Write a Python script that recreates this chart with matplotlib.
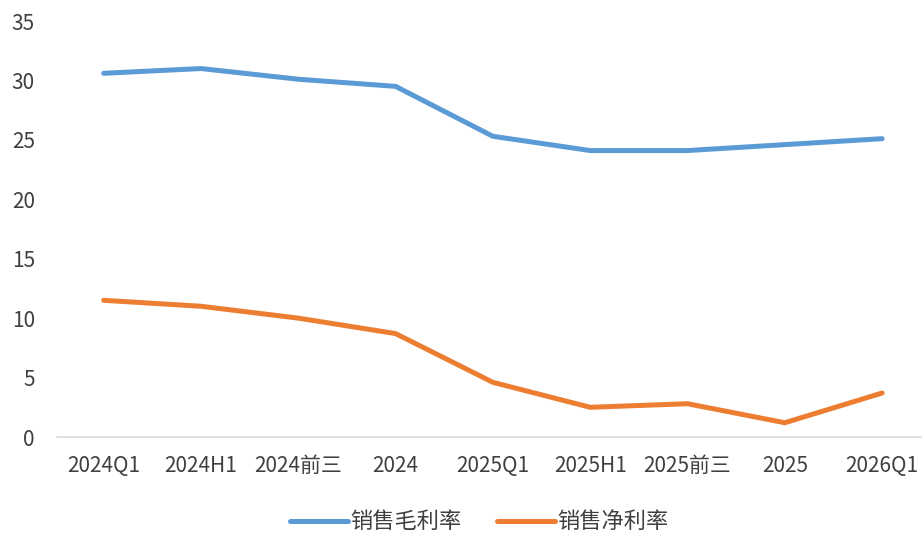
import numpy as np
import matplotlib
matplotlib.use('Agg')
from matplotlib import pyplot as plt

plt.rcParams['font.family'] = ['Noto Sans CJK SC', 'DejaVu Sans']

periods = ['2024Q1', '2024H1', '2024前三', '2024', '2025Q1', '2025H1', '2025前三', '2025', '2026Q1']
gross_margin = [30.6, 31.0, 30.1, 29.5, 25.3, 24.1, 24.1, 24.6, 25.1]
net_margin = [11.5, 11.0, 10.0, 8.7, 4.6, 2.5, 2.8, 1.2, 3.7]

fig = plt.figure(figsize=(9.22, 5.38), dpi=100)
ax = fig.add_axes([57 / 922, 101 / 538, 865 / 922, 416 / 538])

x = np.arange(len(periods))
ax.plot(x, gross_margin, color='#5B9BD5', linewidth=3.6, solid_capstyle='round', label='销售毛利率')
ax.plot(x, net_margin, color='#ED7D31', linewidth=3.6, solid_capstyle='round', label='销售净利率')

ax.set_xlim(-0.48, 8.41)
ax.set_ylim(0, 35)
ax.set_yticks(range(0, 36, 5))
ax.set_xticks(x)
ax.set_xticklabels(periods)
ax.tick_params(axis='both', length=0, labelsize=15, colors='#404040')
ax.tick_params(axis='y', pad=16)
ax.tick_params(axis='x', pad=13)

for side in ['top', 'right', 'left']:
    ax.spines[side].set_visible(False)
ax.spines['bottom'].set_color('#D9D9D9')
ax.spines['bottom'].set_linewidth(1.2)

fig.legend(loc='center', bbox_to_anchor=(0.52, 0.03), ncol=2, frameon=False,
           fontsize=16, handlelength=2.6, columnspacing=1.6, handletextpad=0.1,
           labelcolor='#404040')

fig.savefig('out.png', dpi=100)
